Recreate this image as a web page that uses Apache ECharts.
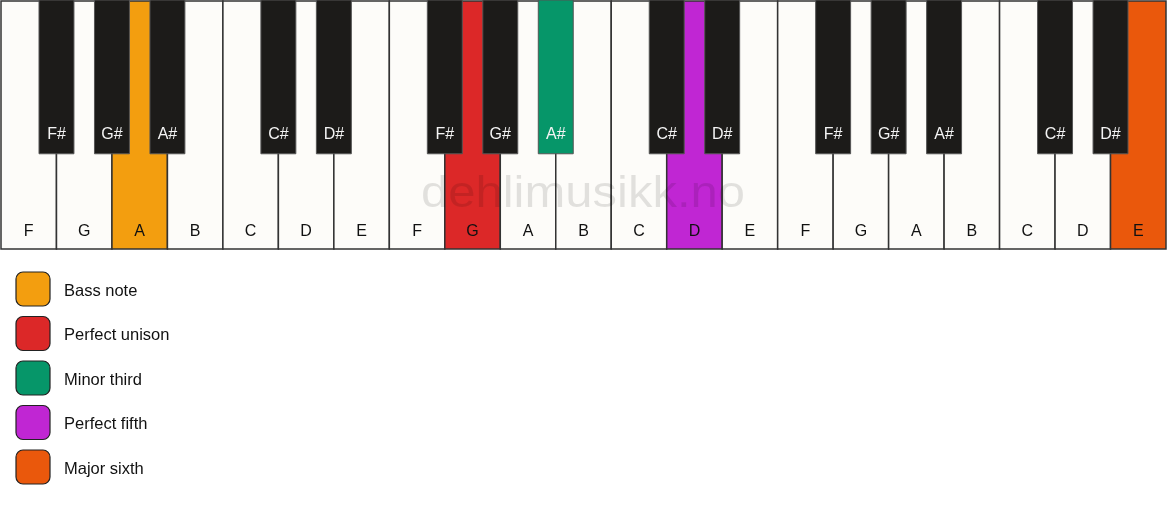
<!DOCTYPE html>
<html>
<head>
	<meta charset="utf-8">
	<script src="https://cdn.jsdelivr.net/npm/echarts@6/dist/echarts.min.js"></script>
	<title>Piano</title>
</head>
<body>
<style>
	html, body { margin: 0; padding: 0; background: #fff; }
	#main { width: 1167px; height: 506px; }
</style>
<div id="main"></div>
<script type="text/javascript">
    // white keys, left to right
    var whiteNames = ['F','G','A','B','C','D','E','F','G','A','B','C','D','E','F','G','A','B','C','D','E'];
    // black keys: name and the white-key boundary they sit on
    var blackNames = ['F#','G#','A#','C#','D#','F#','G#','A#','C#','D#','F#','G#','A#','C#','D#'];
    var blackPos = [1, 2, 3, 5, 6, 8, 9, 10, 12, 13, 15, 16, 17, 19, 20];

    // legend / highlighted notes
    var legendNames = ['Bass note', 'Perfect unison', 'Minor third', 'Perfect fifth', 'Major sixth'];
    var legendColors = ['#f39e0f', '#dc2828', '#069669', '#c026d3', '#ea580c'];
    var hlKind = ['white', 'white', 'black', 'white', 'white'];
    var hlPos = [2, 8, 10, 12, 20];

    var WHITE = '#fdfcf9';
    var BLACK = '#1c1b19';
    var BLACK_W = 0.63;     // in white-key units
    var BLACK_BOTTOM = 0.384;
    var FONT = '16px Arial, "Liberation Sans", sans-serif';

    function hlColor(kind, pos) {
        for (var i = 0; i < hlKind.length; i++) {
            if (hlKind[i] === kind && hlPos[i] === pos) return legendColors[i];
        }
        return null;
    }

    var whiteData = whiteNames.map(function (n, i) {
        return [i, n, hlColor('white', i) || WHITE];
    });
    var blackData = blackNames.map(function (n, i) {
        return [blackPos[i], n, hlColor('black', blackPos[i]) || BLACK];
    });

    var myChart = echarts.init(document.getElementById('main'));

    var legendGraphics = [];
    legendNames.forEach(function (name, i) {
        var top = 272 + i * 44.5;
        legendGraphics.push({
            type: 'rect',
            shape: { x: 16, y: top, width: 34, height: 34, r: 7 },
            style: { fill: legendColors[i], stroke: '#222', lineWidth: 1.2 }
        });
        legendGraphics.push({
            type: 'text',
            x: 64, y: top + 19,
            style: {
                text: name, fill: '#111', font: '16.5px Arial, "Liberation Sans", sans-serif',
                verticalAlign: 'middle'
            }
        });
    });

    var option = {
        animation: false,
        grid: { left: 1, right: 1, top: 1, bottom: 506 - 249 },
        xAxis: { type: 'value', min: 0, max: 21, show: false },
        yAxis: { type: 'value', min: 0, max: 1, show: false },
        graphic: legendGraphics.concat([{
            type: 'text',
            x: 583, y: 195,
            z: 100,
            scaleY: 0.9,
            style: {
                text: 'dehlimusikk.no',
                fill: 'rgba(0,0,0,0.11)',
                font: '49px Arial, "Liberation Sans", sans-serif',
                align: 'center',
                verticalAlign: 'middle'
            }
        }]),
        series: [{
            type: 'custom',
            z: 1,
            data: whiteData,
            renderItem: function (params, api) {
                var i = api.value(0);
                var p0 = api.coord([i, 1]);
                var p1 = api.coord([i + 1, 0]);
                return {
                    type: 'group',
                    children: [{
                        type: 'rect',
                        shape: { x: p0[0], y: p0[1], width: p1[0] - p0[0], height: p1[1] - p0[1] },
                        style: { fill: whiteData[params.dataIndex][2], stroke: '#333', lineWidth: 1.5 }
                    }, {
                        type: 'text',
                        x: (p0[0] + p1[0]) / 2, y: p1[1] - 17,
                        style: {
                            text: whiteData[params.dataIndex][1], fill: '#111',
                            font: FONT, align: 'center', verticalAlign: 'middle'
                        }
                    }]
                };
            }
        }, {
            type: 'custom',
            z: 2,
            data: blackData,
            renderItem: function (params, api) {
                var c = api.value(0);
                var p0 = api.coord([c - BLACK_W / 2, 1]);
                var p1 = api.coord([c + BLACK_W / 2, BLACK_BOTTOM]);
                return {
                    type: 'group',
                    children: [{
                        type: 'rect',
                        shape: { x: p0[0], y: p0[1] - 1, width: p1[0] - p0[0], height: p1[1] - p0[1] + 1 },
                        style: { fill: blackData[params.dataIndex][2], stroke: '#555', lineWidth: 1 }
                    }, {
                        type: 'text',
                        x: (p0[0] + p1[0]) / 2, y: p1[1] - 19,
                        style: {
                            text: blackData[params.dataIndex][1], fill: '#f4f4f4',
                            font: FONT, align: 'center', verticalAlign: 'middle'
                        }
                    }]
                };
            }
        }]
    };

    myChart.setOption(option);
</script>
</body>
</html>
